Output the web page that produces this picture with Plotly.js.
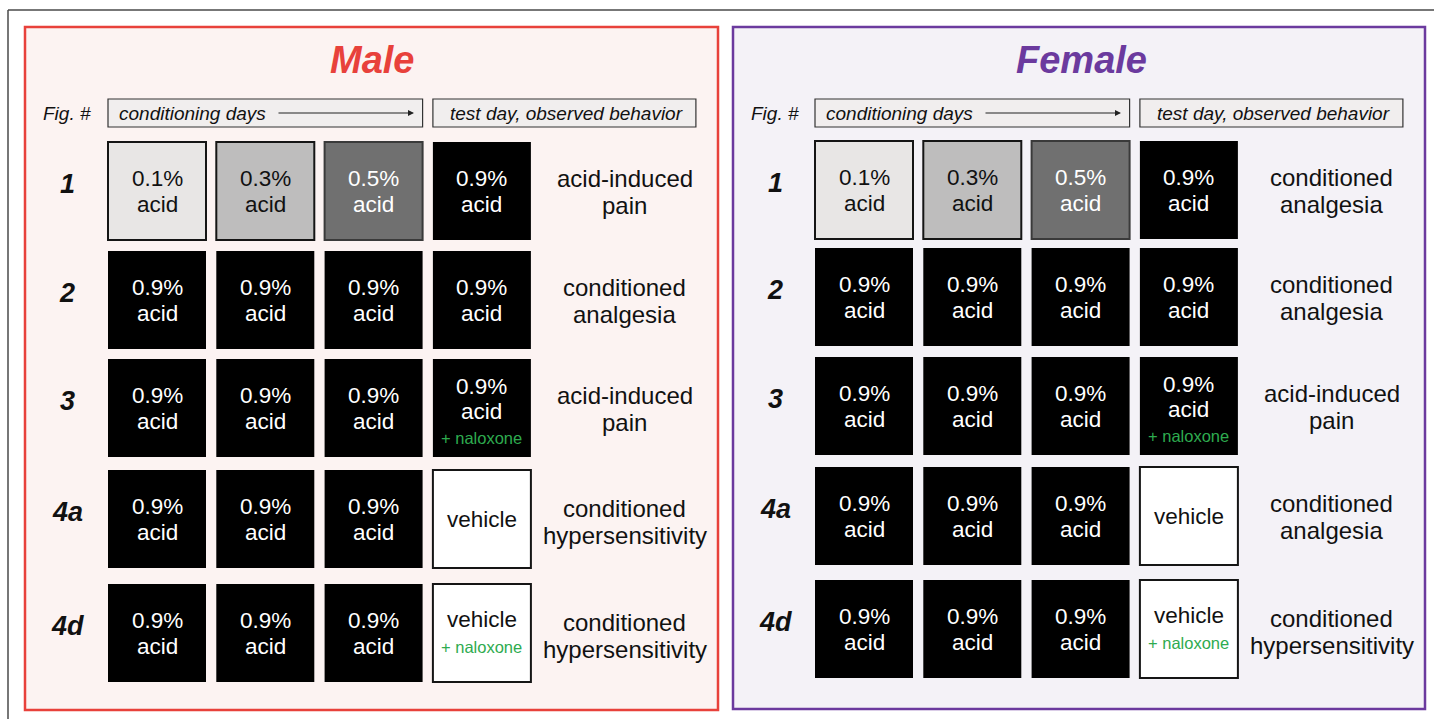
<!DOCTYPE html>
<html><head><meta charset="utf-8">
<script src="https://cdn.plot.ly/plotly-3.0.1.min.js"></script>
<style>html,body{margin:0;padding:0;background:#fff;}#chart{width:1434px;height:719px;}</style>
</head><body><div id="chart"></div>
<script>
// ---------------- data ----------------
const panels = ['Male', 'Female'];
const figNumbers = ['1', '2', '3', '4a', '4d'];
const headerLabels = ['Fig. #', 'conditioning days', 'test day, observed behavior'];
// acid concentration (%) on the three conditioning days, per experiment row
const maleConditioning = [[0.1, 0.3, 0.5], [0.9, 0.9, 0.9], [0.9, 0.9, 0.9], [0.9, 0.9, 0.9], [0.9, 0.9, 0.9]];
const femaleConditioning = [[0.1, 0.3, 0.5], [0.9, 0.9, 0.9], [0.9, 0.9, 0.9], [0.9, 0.9, 0.9], [0.9, 0.9, 0.9]];
// test day: acid concentration (0 = vehicle) and naloxone
const maleTestAcid = [0.9, 0.9, 0.9, 0, 0];
const femaleTestAcid = [0.9, 0.9, 0.9, 0, 0];
const maleTestNaloxone = [false, false, true, false, true];
const femaleTestNaloxone = [false, false, true, false, true];
// observed behavior
const maleBehavior = [['acid-induced', 'pain'], ['conditioned', 'analgesia'], ['acid-induced', 'pain'], ['conditioned', 'hypersensitivity'], ['conditioned', 'hypersensitivity']];
const femaleBehavior = [['conditioned', 'analgesia'], ['conditioned', 'analgesia'], ['acid-induced', 'pain'], ['conditioned', 'analgesia'], ['conditioned', 'hypersensitivity']];

const DATA = {
  Male: {cond: maleConditioning, testAcid: maleTestAcid, nal: maleTestNaloxone, beh: maleBehavior},
  Female: {cond: femaleConditioning, testAcid: femaleTestAcid, nal: femaleTestNaloxone, beh: femaleBehavior}
};

// ---------------- layout / style ----------------
const FONT = 'Liberation Sans, Arial, Helvetica, sans-serif';
const GEO = {
  Male: {box: [25, 27, 718, 710], color: '#e8413b', fill: '#fcf3f2', titleX: 372, x0: 108, rowTop: [142, 251, 359, 470, 584], labelX: 67},
  Female: {box: [733, 27, 1425, 709], color: '#6b3a9e', fill: '#f4f2f7', titleX: 1081, x0: 815, rowTop: [141, 248, 357, 467, 580], labelX: 775}
};
const PITCH = 108.3, CELL = 98;
const CELL_FONT = 22.5, LINE_HALF = 12.6;
const SHADE = {0: '#ffffff', 0.1: '#e8e6e5', 0.3: '#bebdbd', 0.5: '#707070', 0.9: '#000000'};
const EDGE = {0: ['#151515', 2], 0.1: ['#151515', 2], 0.3: ['#151515', 2], 0.5: ['#3a3a3a', 2], 0.9: ['#000000', 0]};
const INK = c => (c >= 0.5 ? '#ffffff' : '#111111');

const shapes = [];
const annotations = [];

// outer frame
shapes.push({type: 'line', xref: 'x', yref: 'y', x0: 8, x1: 1434, y0: 10, y1: 10, line: {color: '#4a4a4a', width: 1.5}});
shapes.push({type: 'line', xref: 'x', yref: 'y', x0: 8, x1: 8, y0: 10, y1: 719, line: {color: '#4a4a4a', width: 1.5}});

function txt(x, y, text, size, color, extra) {
  annotations.push(Object.assign({xref: 'x', yref: 'y', x: x, y: y, text: text, showarrow: false,
    xanchor: 'center', yanchor: 'middle', font: {family: FONT, size: size, color: color}}, extra || {}));
}

panels.forEach(p => {
  const g = GEO[p], d = DATA[p];
  shapes.push({type: 'rect', xref: 'x', yref: 'y', x0: g.box[0], y0: g.box[1], x1: g.box[2], y1: g.box[3],
    fillcolor: g.fill, line: {color: g.color, width: 2.5}, layer: 'below'});
  txt(g.titleX, 60, '<b><i>' + p + '</i></b>', 38, g.color);

  // header row
  const condX1 = g.x0 + 2 * PITCH + CELL;
  const testX0 = g.x0 + 3 * PITCH, testX1 = testX0 + 263;
  shapes.push({type: 'rect', xref: 'x', yref: 'y', x0: g.x0, x1: condX1, y0: 99, y1: 127, fillcolor: '#f1eeee', line: {color: '#333', width: 1.2}});
  shapes.push({type: 'rect', xref: 'x', yref: 'y', x0: testX0, x1: testX1, y0: 99, y1: 127, fillcolor: '#f1eeee', line: {color: '#333', width: 1.2}});
  txt(g.labelX, 113, '<i>' + headerLabels[0] + '</i>', 19, '#111');
  txt(g.x0 + 9, 113, '<i>' + headerLabels[1] + '</i>', 19, '#111', {xanchor: 'left'});
  txt((testX0 + testX1) / 2 + 2, 113, '<i>' + headerLabels[2] + '</i>', 19, '#111');
  annotations.push({xref: 'x', yref: 'y', axref: 'x', ayref: 'y', x: g.x0 + 306, y: 113, ax: g.x0 + 169, ay: 113,
    text: '', showarrow: true, arrowhead: 2, arrowsize: 1, arrowwidth: 1.2, arrowcolor: '#222'});

  figNumbers.forEach((f, r) => {
    const top = g.rowTop[r], cy = top + CELL / 2;
    txt(g.labelX, cy - 7, '<b><i>' + f + '</i></b>', 27, '#111');
    // conditioning cells
    d.cond[r].forEach((c, k) => {
      const x0 = g.x0 + k * PITCH;
      shapes.push({type: 'rect', xref: 'x', yref: 'y', x0: x0, x1: x0 + CELL, y0: top, y1: top + CELL,
        fillcolor: SHADE[c], line: {color: EDGE[c][0], width: EDGE[c][1]}});
      txt(x0 + CELL / 2, cy - LINE_HALF + 0.5, c + '%', CELL_FONT, INK(c));
      txt(x0 + CELL / 2, cy + LINE_HALF + 0.5, 'acid', CELL_FONT, INK(c));
    });
    // test cell
    const c = d.testAcid[r], tx0 = g.x0 + 3 * PITCH, tcx = tx0 + CELL / 2;
    shapes.push({type: 'rect', xref: 'x', yref: 'y', x0: tx0, x1: tx0 + CELL, y0: top, y1: top + CELL,
      fillcolor: SHADE[c], line: {color: EDGE[c][0], width: EDGE[c][1]}});
    if (c > 0) {
      if (d.nal[r]) {
        txt(tcx, cy - 21.8, c + '%', CELL_FONT, INK(c));
        txt(tcx, cy + 3.4, 'acid', CELL_FONT, INK(c));
        txt(tcx, cy + 30, '+ naloxone', 16.5, '#2eab4f');
      } else {
        txt(tcx, cy - LINE_HALF + 0.5, c + '%', CELL_FONT, INK(c));
        txt(tcx, cy + LINE_HALF + 0.5, 'acid', CELL_FONT, INK(c));
      }
    } else {
      if (d.nal[r]) {
        txt(tcx, cy - 14, 'vehicle', CELL_FONT, INK(c));
        txt(tcx, cy + 14, '+ naloxone', 16.5, '#2eab4f');
      } else {
        txt(tcx, cy, 'vehicle', CELL_FONT, INK(c));
      }
    }
    // behavior
    const b = d.beh[r], bx = tx0 + CELL + 94;
    const by = b[1] === 'hypersensitivity' ? cy + 3 : cy + 1;
    txt(bx, by - 13.9, b[0], 24, '#111');
    txt(bx, by + 13.9, b[1], 24, '#111');
  });
});

const layout = {
  width: 1434, height: 719,
  margin: {l: 0, r: 0, t: 0, b: 0},
  paper_bgcolor: '#ffffff', plot_bgcolor: '#ffffff',
  showlegend: false,
  xaxis: {range: [0, 1434], visible: false, fixedrange: true},
  yaxis: {range: [719, 0], visible: false, fixedrange: true},
  shapes: shapes,
  annotations: annotations
};
const traces = [{type: 'scatter', mode: 'markers', x: [], y: [], hoverinfo: 'skip'}];
Plotly.newPlot('chart', traces, layout, {displayModeBar: false, staticPlot: true});
</script></body></html>
